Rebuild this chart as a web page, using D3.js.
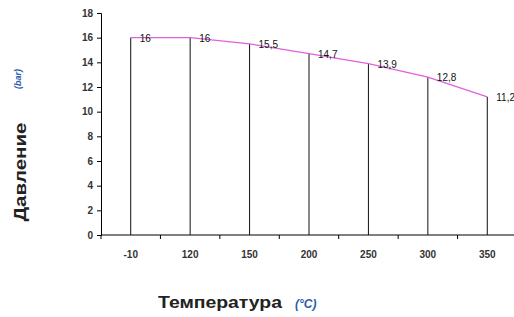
<!DOCTYPE html>
<html>
<head>
<meta charset="utf-8">
<script src="https://cdn.jsdelivr.net/npm/d3@7"></script>
<style>
  body { margin: 0; background: #fff; }
  svg { font-family: "Liberation Sans", Arial, sans-serif; }
</style>
</head>
<body>
<div class="chart"></div>
<script>
let temps = ["-10", "120", "150", "200", "250", "300", "350"]
let pressure = [16, 16, 15.5, 14.7, 13.9, 12.8, 11.2]
let yTicks = [0, 2, 4, 6, 8, 10, 12, 14, 16, 18]

let svg = d3.select(".chart").append("svg").attr("width", 514).attr("height", 317)

let x = d3.scaleBand().domain(temps).range([101, 517])
let y = d3.scaleLinear().domain([0, 18]).range([235, 13])

// y axis
let yAxis = svg.append("g").attr("transform", "translate(101,0)")
  .call(d3.axisLeft(y).tickValues(yTicks).tickSize(4).tickPadding(4))
yAxis.select(".domain").attr("stroke", "#000")
yAxis.selectAll("text").style("font-size", "10px").style("font-weight", "bold").attr("fill", "#333")

// x axis, ticks sit at the band edges
let xg = svg.append("g").attr("transform", "translate(0,235)")
xg.append("line").attr("x1", 101).attr("x2", 514).attr("stroke", "#000")
xg.selectAll(".tk").data(temps.concat(["end"])).enter().append("line")
  .attr("x1", (d, i) => 101 + i * x.step()).attr("x2", (d, i) => 101 + i * x.step())
  .attr("y1", 0).attr("y2", 4).attr("stroke", "#000")
xg.selectAll("text").data(temps).enter().append("text")
  .attr("x", d => x(d) + x.bandwidth() / 2)
  .attr("y", 23)
  .attr("text-anchor", "middle")
  .style("font-size", "10px").style("font-weight", "bold").attr("fill", "#333")
  .text(d => d)

let pts = temps.map((t, i) => ({t: t, v: pressure[i], cx: x(t) + x.bandwidth() / 2}))

// drop lines
svg.selectAll(".drop").data(pts).enter().append("line")
  .attr("x1", d => d.cx).attr("x2", d => d.cx)
  .attr("y1", d => y(d.v)).attr("y2", y(0))
  .attr("stroke", "#111").attr("stroke-width", 1)

// pressure line
let line = d3.line().x(d => d.cx).y(d => y(d.v))
svg.append("path").datum(pts).attr("d", line)
  .attr("fill", "none").attr("stroke", "#e060e0").attr("stroke-width", 1.3)

// value labels
svg.selectAll(".lbl").data(pts).enter().append("text")
  .attr("x", d => d.cx + 9).attr("y", d => y(d.v) + 4)
  .style("font-size", "10px").attr("fill", "#111")
  .text(d => String(d.v).replace(".", ","))

// axis titles
svg.append("text").attr("transform", "translate(26,172) rotate(-90)").attr("text-anchor", "middle")
  .attr("textLength", 99).attr("lengthAdjust", "spacingAndGlyphs")
  .style("font-size", "17px").style("font-weight", "bold").attr("fill", "#222")
  .text("Давление")
svg.append("text").attr("transform", "translate(21,79) rotate(-90)").attr("text-anchor", "middle")
  .style("font-size", "9px").style("font-weight", "bold").style("font-style", "italic")
  .attr("fill", "#2a5db0").text("(bar)")

svg.append("text").attr("x", 158).attr("y", 308)
  .attr("textLength", 124).attr("lengthAdjust", "spacingAndGlyphs")
  .style("font-size", "17px").style("font-weight", "bold").attr("fill", "#222")
  .text("Температура")
svg.append("text").attr("x", 295).attr("y", 308)
  .style("font-size", "12px").style("font-weight", "bold").style("font-style", "italic")
  .attr("fill", "#2a5db0").text("(°C)")
</script>
</body>
</html>
